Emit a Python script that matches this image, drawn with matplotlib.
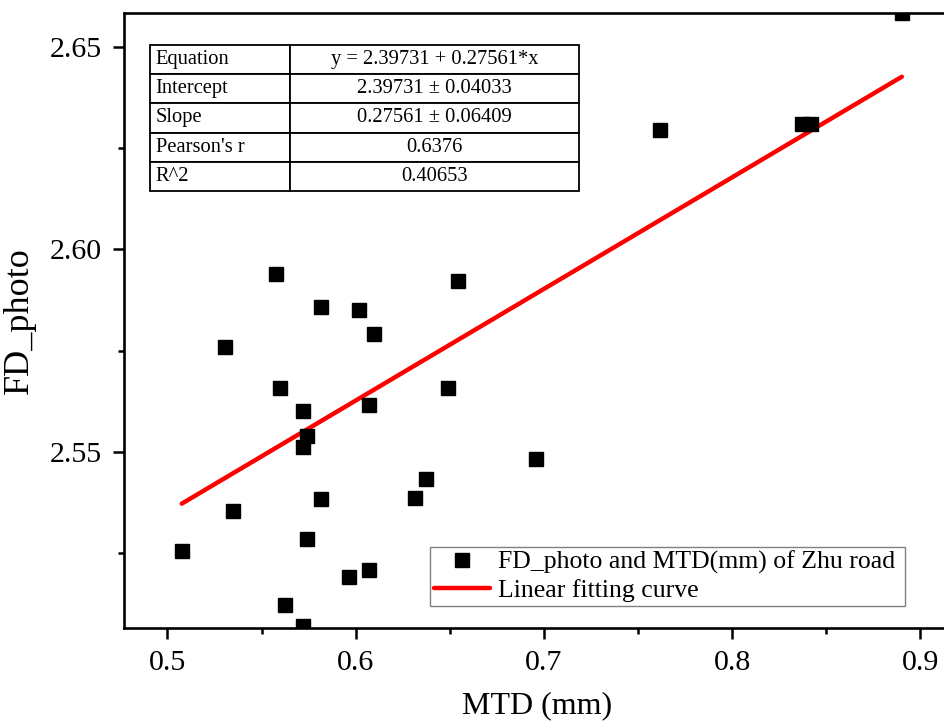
import matplotlib
matplotlib.use("Agg")
import matplotlib.pyplot as plt
from matplotlib.ticker import MultipleLocator

plt.rcParams['font.family'] = ['Liberation Serif', 'DejaVu Serif']

# Data
mtd = [0.8902, 0.7616, 0.8369, 0.8417, 0.6957,
       0.5575, 0.5815, 0.6019, 0.6099, 0.5304, 0.6543, 0.5598, 0.6489,
       0.5719, 0.6071, 0.5740, 0.5719, 0.6376, 0.6317, 0.5815, 0.5350,
       0.5076, 0.5743, 0.6073, 0.5966, 0.5623, 0.5719]
fd_photo = [2.6584, 2.6296, 2.6311, 2.6309, 2.5483,
            2.5939, 2.5859, 2.5850, 2.5791, 2.5759, 2.5923, 2.5659, 2.5657,
            2.5600, 2.5615, 2.5538, 2.5511, 2.5432, 2.5385, 2.5384, 2.5354,
            2.5254, 2.5285, 2.5209, 2.5190, 2.5122, 2.5071]

intercept = 2.39731
slope = 0.27561

table_labels = ["Equation", "Intercept", "Slope", "Pearson's r", "R^2"]
table_values = ["y = 2.39731 + 0.27561*x", "2.39731 \u00b1 0.04033",
                "0.27561 \u00b1 0.06409", "0.6376", "0.40653"]

x_ticks = [0.5, 0.6, 0.7, 0.8, 0.9]
x_ticklabels = ['0.5', '0.6', '0.7', '0.8', '0.9']
y_ticks = [2.55, 2.60, 2.65]
y_ticklabels = ['2.55', '2.60', '2.65']

W, H = 945, 721
fig = plt.figure(figsize=(W / 100, H / 100), dpi=100)
ax_l, ax_r, ax_t, ax_b = 124, 950, 13, 628
ax = fig.add_axes([ax_l / W, (H - ax_b) / H, (ax_r - ax_l) / W, (ax_b - ax_t) / H])

ax.plot(mtd, fd_photo, linestyle='none', marker='s', markersize=9.4,
        color='black', label='FD_photo and MTD(mm) of Zhu road', zorder=3)

x0, x1 = min(mtd), max(mtd)
ax.plot([x0, x1], [intercept + slope * x0, intercept + slope * x1],
        color='#ff0000', linewidth=3.2, solid_capstyle='round',
        label='Linear fitting curve', zorder=2)

ax.set_xlim(0.4769, 0.9158)
ax.set_ylim(2.5065, 2.6584)
ax.xaxis.set_minor_locator(MultipleLocator(0.05))
ax.yaxis.set_minor_locator(MultipleLocator(0.025))
ax.set_xticks(x_ticks)
ax.set_xticklabels(x_ticklabels)
ax.set_yticks(y_ticks)
ax.set_yticklabels(y_ticklabels)

ax.tick_params(which='major', direction='out', length=8, width=1.8,
               labelsize=21.5, pad=8)
ax.tick_params(which='minor', direction='out', length=4.5, width=1.8)
for s in ax.spines.values():
    s.set_linewidth(1.9)

ax.set_xlabel('MTD (mm)', fontsize=23, labelpad=11)
ax.set_ylabel('FD_photo', fontsize=26, labelpad=10)

# Statistics table
tb = ax.table(cellText=[[a, b] for a, b in zip(table_labels, table_values)],
              cellLoc='center', colWidths=[0.326, 0.674],
              bbox=[(150 - ax_l) / (ax_r - ax_l), (ax_b - 191) / (ax_b - ax_t),
                    429 / (ax_r - ax_l), 146 / (ax_b - ax_t)])
tb.auto_set_font_size(False)
for (r, c), cell in tb.get_celld().items():
    cell.set_linewidth(1.3)
    cell.set_edgecolor('black')
    cell.get_text().set_fontsize(14.8)
    if c == 0:
        cell.get_text().set_horizontalalignment('left')
        cell.PAD = 0.04
tb.set_zorder(5)

leg = ax.legend(loc='lower left',
                bbox_to_anchor=((430 - ax_l) / (ax_r - ax_l), (ax_b - 606) / (ax_b - ax_t),
                                (905 - 430) / (ax_r - ax_l), (606 - 537) / (ax_b - ax_t)),
                mode='expand', fontsize=18.5, frameon=True, fancybox=False,
                edgecolor='#808080', framealpha=1, borderpad=0.15,
                handlelength=2.2, handletextpad=0.3, labelspacing=0.2,
                borderaxespad=0)
leg.get_frame().set_linewidth(1.0)

fig.savefig('out.png', dpi=100)
